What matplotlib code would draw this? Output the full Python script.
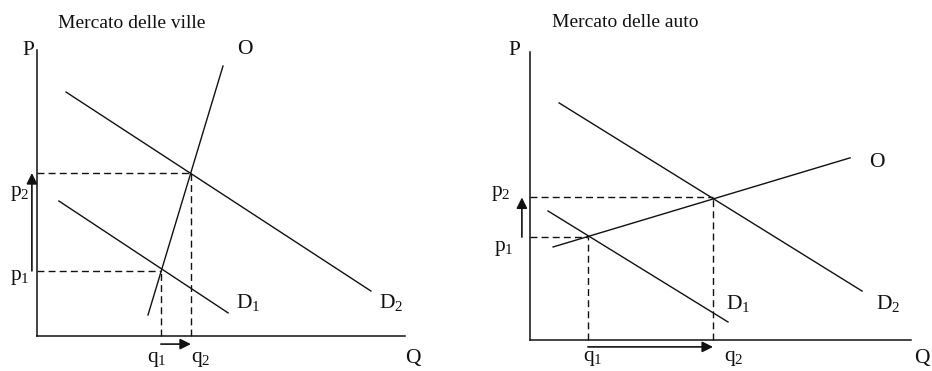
import matplotlib
matplotlib.use("Agg")
import matplotlib.pyplot as plt

plt.rcParams['font.family'] = ['Liberation Serif', 'DejaVu Serif']
plt.rcParams['mathtext.fontset'] = 'custom'
plt.rcParams['mathtext.rm'] = 'Liberation Serif'
plt.rcParams['mathtext.it'] = 'Liberation Serif'

# Mercato delle ville (rigid supply, demand shifts right)
ville_title = "Mercato delle ville"
ville_O = ([3.7, 6.2], [0.7, 9.0])
ville_D1 = ([0.73, 6.37], [4.5, 0.77])
ville_D2 = ([0.97, 11.13], [8.13, 1.5])
ville_q = [4.13, 5.13]
ville_p = [2.17, 5.43]

# Mercato delle auto (elastic supply)
auto_title = "Mercato delle auto"
auto_O = ([0.77, 10.67], [3.1, 6.07])
auto_D1 = ([0.6, 6.6], [4.3, 0.6])
auto_D2 = ([0.97, 11.07], [7.9, 1.63])
auto_q = [1.93, 6.1]
auto_p = [3.43, 4.75]

INK = '#111111'
FS = 15.5


def draw_market(ax, title, O, D1, D2, q, p, xmax, ymax, pos):
    """Draw one supply/demand panel; pos holds the label spots."""
    ax.axis('off')
    # axes
    ax.plot([0, xmax], [0, 0], color=INK, lw=1.1)
    ax.plot([0, 0], [0, ymax], color=INK, lw=1.1)
    # curves
    for xs, ys in (O, D1, D2):
        ax.plot(xs, ys, color=INK, lw=1.0)
    # dashed guides to equilibria
    for qq, pp in zip(q, p):
        ax.plot([0, qq], [pp, pp], color=INK, lw=1.0, dashes=(5, 3))
        ax.plot([qq, qq], [0, pp], color=INK, lw=1.0, dashes=(5, 3))
    # shift arrows
    arrow = dict(arrowstyle='-|>', color=INK, lw=1.2, mutation_scale=16,
                 shrinkA=0, shrinkB=0)
    ax.annotate('', xy=(pos['varrow_x'], p[1]), xytext=(pos['varrow_x'], p[0]),
                arrowprops=arrow, annotation_clip=False)
    ax.annotate('', xy=(q[1], pos['harrow_y']), xytext=(q[0], pos['harrow_y']),
                arrowprops=arrow, annotation_clip=False)
    # text
    ax.text(*pos['title'], title, fontsize=14, ha='left', va='center', color=INK)
    labels = {'P': 'P', 'Q': 'Q', 'O': 'O',
              'D1': r'$\mathrm{D}_1$', 'D2': r'$\mathrm{D}_2$',
              'p1': r'$\mathrm{p}_1$', 'p2': r'$\mathrm{p}_2$',
              'q1': r'$\mathrm{q}_1$', 'q2': r'$\mathrm{q}_2$'}
    for key, txt in labels.items():
        x, y, ha = pos[key]
        ax.text(x, y, txt, fontsize=FS, ha=ha, va='center', color=INK,
                clip_on=False)


fig = plt.figure(figsize=(9.32, 3.71), dpi=100)

ax1 = fig.add_axes([0, 0, 0.5, 1])
ax1.set_xlim(-1.233, 14.3)
ax1.set_ylim(-1.167, 11.2)
draw_market(ax1, ville_title, ville_O, ville_D1, ville_D2, ville_q, ville_p,
            12.27, 9.53,
            {'title': (0.7, 10.43), 'varrow_x': -0.17, 'harrow_y': -0.27,
             'P': (-0.3, 9.5, 'center'), 'O': (6.93, 9.55, 'center'),
             'Q': (12.53, -0.75, 'center'),
             'D1': (7.05, 1.1, 'center'), 'D2': (11.8, 1.1, 'center'),
             'p1': (-0.57, 1.95, 'center'), 'p2': (-0.57, 4.75, 'center'),
             'q1': (4.0, -0.8, 'center'), 'q2': (5.45, -0.8, 'center')})

ax2 = fig.add_axes([0.5, 0, 0.5, 1])
ax2.set_xlim(-2.133, 13.4)
ax2.set_ylim(-1.033, 11.33)
draw_market(ax2, auto_title, auto_O, auto_D1, auto_D2, auto_q, auto_p,
            12.7, 9.6,
            {'title': (0.73, 10.57), 'varrow_x': -0.27, 'harrow_y': -0.23,
             'P': (-0.53, 9.65, 'center'), 'O': (11.55, 5.93, 'center'),
             'Q': (13.33, -0.6, 'right'),
             'D1': (6.95, 1.23, 'center'), 'D2': (11.95, 1.23, 'center'),
             'p1': (-0.87, 3.05, 'center'), 'p2': (-0.97, 4.88, 'center'),
             'q1': (2.1, -0.6, 'center'), 'q2': (6.8, -0.6, 'center')})

fig.savefig('out.png', dpi=100, facecolor='white')
